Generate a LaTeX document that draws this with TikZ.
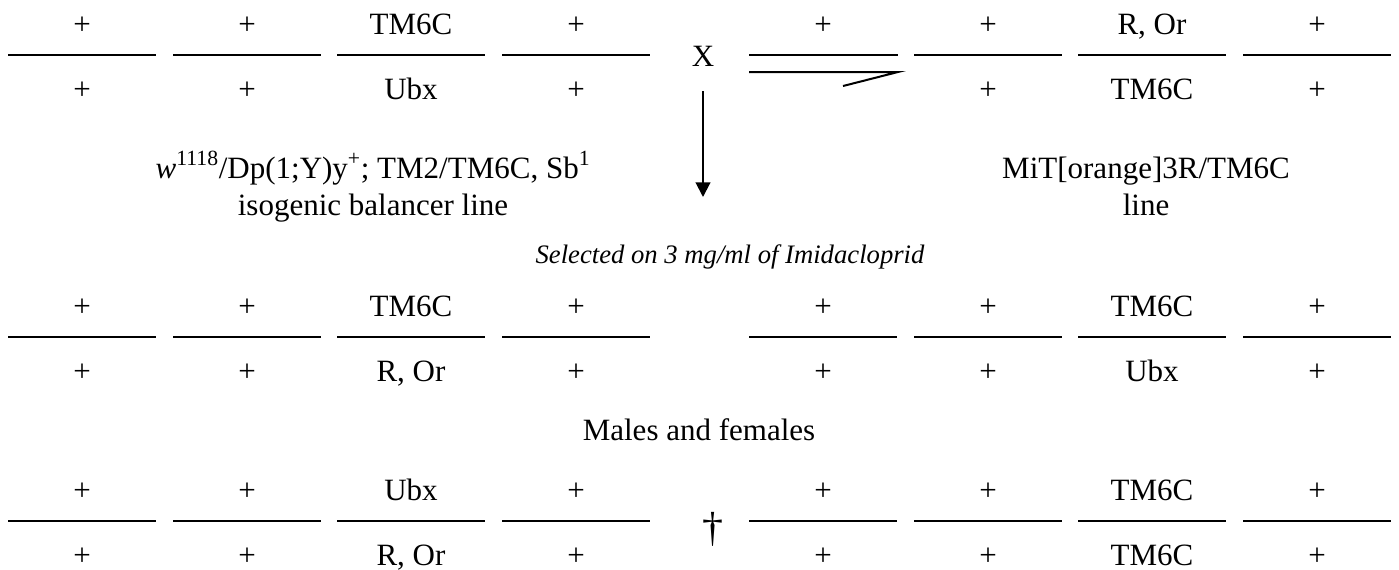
\documentclass[tikz,border=0pt]{standalone}
\usepackage{fontspec}
\setmainfont{Liberation Serif}
\usetikzlibrary{arrows.meta, positioning}

\tikzset{
  chrom/.style={line width=1.5pt},
  allele/.style={font=\fontsize{23.25}{28}\selectfont, inner sep=0pt, anchor=base},
  remark/.style={allele, font=\fontsize{20}{24}\selectfont\itshape},
}

\begin{document}
\begin{tikzpicture}[x=0.75pt, y=-0.75pt, >={Triangle[length=11pt, width=11pt]}]
    \useasboundingbox (0,0) rectangle (1399,569);
    % chromosome bars: x of bar / y of bar / upper allele / lower allele
    \foreach \x/\y/\up/\dn [count=\i] in {
        8/55/+/+, 173/55/+/+, 337/55/TM6C/Ubx, 502/55/+/+,
        914/55/+/+, 1078/55/{R, Or}/TM6C, 1243/55/+/+,
        8/337/+/+, 173/337/+/+, 337/337/TM6C/{R, Or}, 502/337/+/+,
        749/337/+/+, 914/337/+/+, 1078/337/TM6C/Ubx, 1243/337/+/+,
        8/521/+/+, 173/521/+/+, 337/521/Ubx/{R, Or}, 502/521/+/+,
        749/521/+/+, 914/521/+/+, 1078/521/TM6C/TM6C, 1243/521/+/+}
    {
        \draw[chrom] (\x,\y) -- ++(148,0);
        \node[allele] (up\i) at (\x+74,\y-21) {\up};
        \node[allele] (dn\i) at (\x+74,\y+44) {\dn};
    }
    % hooked Y bar of the male
    \draw[chrom] (749,55) -- (898,55);
    \draw[chrom, line join=miter] (749,72) -- (898,72) -- (843,86);
    \node[allele] (yup) at (823,34) {+};

    \node[allele] (cross) at (703,66) {X};
    \coordinate (arrowtop) at (703,91);
    \coordinate (arrowtip) at (703,197);
    \draw[chrom, ->] (arrowtop) -- (arrowtip);

    \node[allele] (bal1) at (373,178) {\textit{w}\textsuperscript{1118}/Dp(1;Y)y\textsuperscript{+}; TM2/TM6C, Sb\textsuperscript{1}};
    \node[allele] (bal2) at (373,215) {isogenic balancer line};
    \node[allele] (mit1) at (1146,178) {MiT[orange]3R/TM6C};
    \node[allele] (mit2) at (1146,215) {line};

    \node[remark] (select) at (730,263) {Selected on 3 mg/ml of Imidacloprid};
    \node[allele] (sexes) at (699,440) {Males and females};
    \node[allele, font=\fontsize{31.5}{36}\selectfont] (lethal) at (713,541) {†};
\end{tikzpicture}
\end{document}
